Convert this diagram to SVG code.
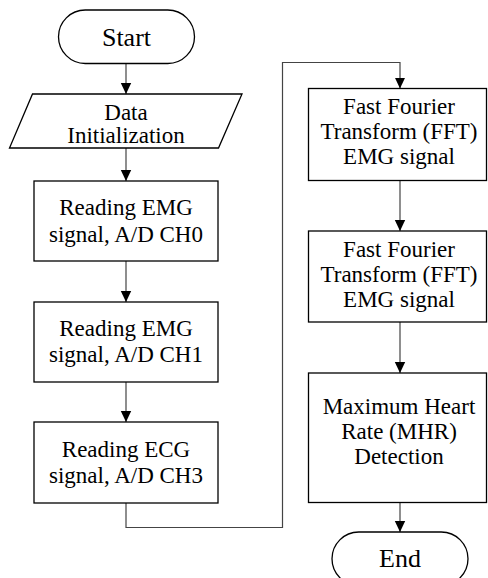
<svg xmlns="http://www.w3.org/2000/svg" width="488" height="578" viewBox="0 0 488 578">
  <style>
    .shape { fill: #ffffff; stroke: #000000; stroke-width: 1.3; }
    .conn { fill: none; stroke: #444444; stroke-width: 1.2; marker-end: url(#arrow); }
    .t { font-family: 'Liberation Serif', 'Times New Roman', serif; font-size: 23px; fill: #000000; text-anchor: middle; }
    .tl { font-family: 'Liberation Serif', 'Times New Roman', serif; font-size: 26px; fill: #000000; text-anchor: middle; }
  </style>
  <defs>
    <marker id="arrow" markerUnits="userSpaceOnUse" markerWidth="12" markerHeight="12" viewBox="0 0 12 12" refX="11" refY="6" orient="auto">
      <path d="M0,0.8 L11,6 L0,11.2 Z" fill="#000000"/>
    </marker>
  </defs>
  <rect width="488" height="578" fill="#ffffff"/>

  <g id="connectors">
    <path class="conn" d="M126,63.5 V94"/>
    <path class="conn" d="M126,148 V181"/>
    <path class="conn" d="M126,261 V302"/>
    <path class="conn" d="M126,382 V422"/>
    <path class="conn" d="M126,503 V527.5 H282.5 V62.5 H400 V88.5"/>
    <path class="conn" d="M400,180.5 V231"/>
    <path class="conn" d="M400,322 V373"/>
    <path class="conn" d="M400,502.5 V532"/>
  </g>

  <g id="start">
    <rect class="shape" x="58.5" y="10" width="136" height="53.5" rx="26.75" ry="26.75"/>
    <text class="tl" x="126.5" y="45.5">Start</text>
  </g>

  <g id="data-init">
    <polygon class="shape" points="32.5,94 242,94 218.5,148 9.5,148"/>
    <text class="t" x="126" y="119.5">Data</text>
    <text class="t" x="126" y="142.5">Initialization</text>
  </g>

  <g id="read-ch0">
    <rect class="shape" x="34" y="181" width="184" height="80"/>
    <text class="t" x="126" y="215">Reading EMG</text>
    <text class="t" x="126" y="241.5">signal, A/D CH0</text>
  </g>

  <g id="read-ch1">
    <rect class="shape" x="34" y="302" width="184" height="80"/>
    <text class="t" x="126" y="335.5">Reading EMG</text>
    <text class="t" x="126" y="362">signal, A/D CH1</text>
  </g>

  <g id="read-ch3">
    <rect class="shape" x="34" y="422" width="184" height="81"/>
    <text class="t" x="126" y="456.5">Reading ECG</text>
    <text class="t" x="126" y="483">signal, A/D CH3</text>
  </g>

  <g id="fft-1">
    <rect class="shape" x="308.5" y="88.5" width="178" height="92"/>
    <text class="t" x="399" y="113.5">Fast Fourier</text>
    <text class="t" x="399" y="138.5">Transform (FFT)</text>
    <text class="t" x="399" y="163.5">EMG signal</text>
  </g>

  <g id="fft-2">
    <rect class="shape" x="308.5" y="231" width="178" height="91"/>
    <text class="t" x="399" y="256.5">Fast Fourier</text>
    <text class="t" x="399" y="281.5">Transform (FFT)</text>
    <text class="t" x="399" y="306.5">EMG signal</text>
  </g>

  <g id="mhr">
    <rect class="shape" x="308.5" y="373" width="178" height="129.5"/>
    <text class="t" x="399" y="413.5">Maximum Heart</text>
    <text class="t" x="399" y="438.5">Rate (MHR)</text>
    <text class="t" x="399" y="463.5">Detection</text>
  </g>

  <g id="end">
    <rect class="shape" x="332" y="532" width="136" height="53.5" rx="26.75" ry="26.75"/>
    <text class="tl" x="400" y="567">End</text>
  </g>
</svg>
